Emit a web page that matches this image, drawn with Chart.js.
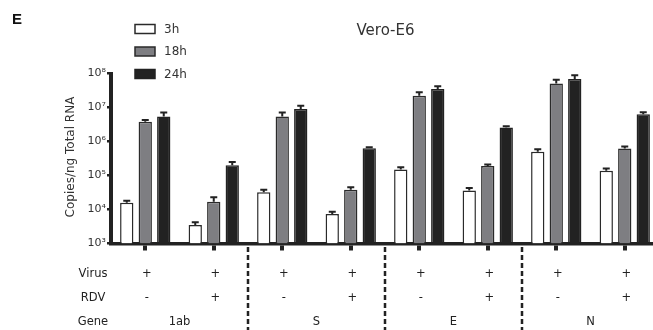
<!DOCTYPE html>
<html><head><meta charset="utf-8">
<script src="https://cdn.jsdelivr.net/npm/chart.js@4/dist/chart.umd.min.js"></script>
<style>html,body{margin:0;padding:0;background:#fff;overflow:hidden;width:653px;height:330px}
#wrap{width:660px;height:330px;position:relative}</style></head>
<body><div id="wrap"><canvas id="c" width="660" height="330"></canvas></div>
<script>
// ---- data ----
const categories = ['1ab -RDV','1ab +RDV','S -RDV','S +RDV','E -RDV','E +RDV','N -RDV','N +RDV'];
const virusRow = ['+','+','+','+','+','+','+','+'];
const rdvRow = ['-','+','-','+','-','+','-','+'];
const geneLabels = ['1ab','S','E','N'];
const rowLabels = ['Virus','RDV','Gene'];
const seriesNames = ['3h','18h','24h'];
const values3h  = [1.58e4, 3.5e3, 3.2e4, 7.4e3, 1.5e5, 3.6e4, 5.0e5, 1.38e5];
const values18h = [3.8e6, 1.7e4, 5.4e6, 3.8e4, 2.2e7, 1.9e5, 5.1e7, 6.2e5];
const values24h = [5.4e6, 2.0e5, 9.1e6, 6.3e5, 3.5e7, 2.6e6, 6.9e7, 6.3e6];
// upper ends of the error bars
const errTop3h  = [1.8e4, 4.2e3, 3.8e4, 8.6e3, 1.74e5, 4.3e4, 5.9e5, 1.6e5];
const errTop18h = [4.3e6, 2.3e4, 7.1e6, 4.5e4, 2.8e7, 2.1e5, 6.6e7, 7.1e5];
const errTop24h = [7.1e6, 2.5e5, 1.12e7, 6.8e5, 4.2e7, 2.8e6, 8.9e7, 7.3e6];
const yTickValues = [1e3, 1e4, 1e5, 1e6, 1e7, 1e8];
const yTickLabels = ['10³','10⁴','10⁵','10⁶','10⁷','10⁸'];
const chartTitle = 'Vero-E6';
const panelLetter = 'E';
const yAxisTitle = 'Copies/ng Total RNA';

const fillColors = ['#ffffff', '#7e7e82', '#222222'];
const borderColors = ['#2a2a2a', '#2a2a2a', '#222222'];
const seriesValues = [values3h, values18h, values24h];
const errTops = [errTop3h, errTop18h, errTop24h];
const FONT = '"DejaVu Sans", Verdana, sans-serif';

const errorBars = {
  id: 'errorBars',
  afterDatasetsDraw(chart) {
    const ctx = chart.ctx, y = chart.scales.y;
    ctx.save();
    ctx.strokeStyle = '#222'; ctx.lineWidth = 2;
    chart.data.datasets.forEach((ds, di) => {
      chart.getDatasetMeta(di).data.forEach((bar, i) => {
        const top = y.getPixelForValue(errTops[di][i]);
        ctx.beginPath();
        ctx.moveTo(bar.x, bar.y); ctx.lineTo(bar.x, top);
        ctx.moveTo(bar.x - 3.5, top); ctx.lineTo(bar.x + 3.5, top);
        ctx.stroke();
      });
    });
    ctx.restore();
  }
};

const decorations = {
  id: 'decorations',
  afterDraw(chart) {
    const ctx = chart.ctx, x = chart.scales.x;
    ctx.save();
    // panel letter
    ctx.fillStyle = '#111';
    ctx.font = 'bold 15px "Liberation Sans", Arial, sans-serif';
    ctx.textAlign = 'left'; ctx.textBaseline = 'alphabetic';
    ctx.fillText(panelLetter, 12, 24);
    // title
    ctx.fillStyle = '#333';
    ctx.font = '15px ' + FONT;
    ctx.textAlign = 'center'; ctx.textBaseline = 'middle';
    ctx.fillText(chartTitle, 385.5, 31);
    // legend
    const ly = [29, 51.5, 74];
    seriesNames.forEach((n, i) => {
      ctx.fillStyle = fillColors[i];
      ctx.fillRect(135, ly[i] - 4.5, 20, 9);
      ctx.strokeStyle = borderColors[i]; ctx.lineWidth = 1.5;
      ctx.strokeRect(135, ly[i] - 4.5, 20, 9);
      ctx.fillStyle = '#333';
      ctx.font = '12px ' + FONT;
      ctx.textAlign = 'left'; ctx.textBaseline = 'middle';
      ctx.fillText(n, 164, ly[i] + 0.5);
    });
    // y-axis title
    ctx.save();
    ctx.translate(71, 157);
    ctx.rotate(-Math.PI / 2);
    ctx.fillStyle = '#333';
    ctx.font = '12px ' + FONT;
    ctx.textAlign = 'center'; ctx.textBaseline = 'middle';
    ctx.fillText(yAxisTitle, 0, 0);
    ctx.restore();
    // dashed separators
    ctx.strokeStyle = '#222'; ctx.lineWidth = 2.5; ctx.setLineDash([5, 3]);
    [1, 3, 5].forEach(i => {
      const px = (x.getPixelForValue(i) + x.getPixelForValue(i + 1)) / 2;
      ctx.beginPath(); ctx.moveTo(px, 247); ctx.lineTo(px, 330); ctx.stroke();
    });
    ctx.setLineDash([]);
    // table
    ctx.fillStyle = '#222';
    ctx.font = '11.5px ' + FONT;
    ctx.textAlign = 'center'; ctx.textBaseline = 'middle';
    const rowY = [274, 298, 322];
    rowLabels.forEach((r, i) => ctx.fillText(r, 93, rowY[i]));
    categories.forEach((c, i) => {
      const px = x.getPixelForValue(i) + 1.5;
      ctx.fillText(virusRow[i], px, rowY[0]);
      ctx.fillText(rdvRow[i], px, rowY[1]);
    });
    geneLabels.forEach((g, k) => {
      const px = (x.getPixelForValue(2 * k) + x.getPixelForValue(2 * k + 1)) / 2;
      ctx.fillText(g, px, rowY[2]);
    });
    ctx.restore();
  }
};

new Chart(document.getElementById('c'), {
  type: 'bar',
  data: {
    labels: categories,
    datasets: seriesNames.map((n, i) => ({
      label: n,
      data: seriesValues[i],
      backgroundColor: fillColors[i],
      borderColor: borderColors[i],
      borderWidth: 1.5,
      borderSkipped: 'bottom',
      categoryPercentage: 0.81,
      barPercentage: 0.72
    }))
  },
  options: {
    responsive: false,
    animation: false,
    devicePixelRatio: 1,
    layout: { padding: { left: 60, top: 73.5, right: 1, bottom: 0 } },
    plugins: { legend: { display: false }, title: { display: false }, tooltip: { enabled: false } },
    scales: {
      x: {
        type: 'category',
        offset: true,
        grid: { display: true, offset: false, drawOnChartArea: false, drawTicks: true, tickLength: 7, lineWidth: 4, color: '#222' },
        border: { display: true, width: 3.5, color: '#222' },
        ticks: { display: false },
        afterFit(s) { s.height = 86.5; }
      },
      y: {
        type: 'logarithmic',
        min: 1e3, max: 1e8,
        grid: { display: true, drawOnChartArea: false, drawTicks: true, tickLength: 4, lineWidth: 2.5, color: '#222' },
        border: { display: true, width: 4, color: '#222' },
        afterBuildTicks(s) { s.ticks = yTickValues.map(v => ({ value: v })); },
        ticks: {
          color: '#333', padding: 1,
          font: { family: 'DejaVu Sans', size: 11 },
          callback: (v) => { const k = yTickValues.indexOf(v); return k >= 0 ? yTickLabels[k] : ''; }
        },
        afterFit(s) { s.width = 51; }
      }
    }
  },
  plugins: [errorBars, decorations]
});
</script>
</body></html>
